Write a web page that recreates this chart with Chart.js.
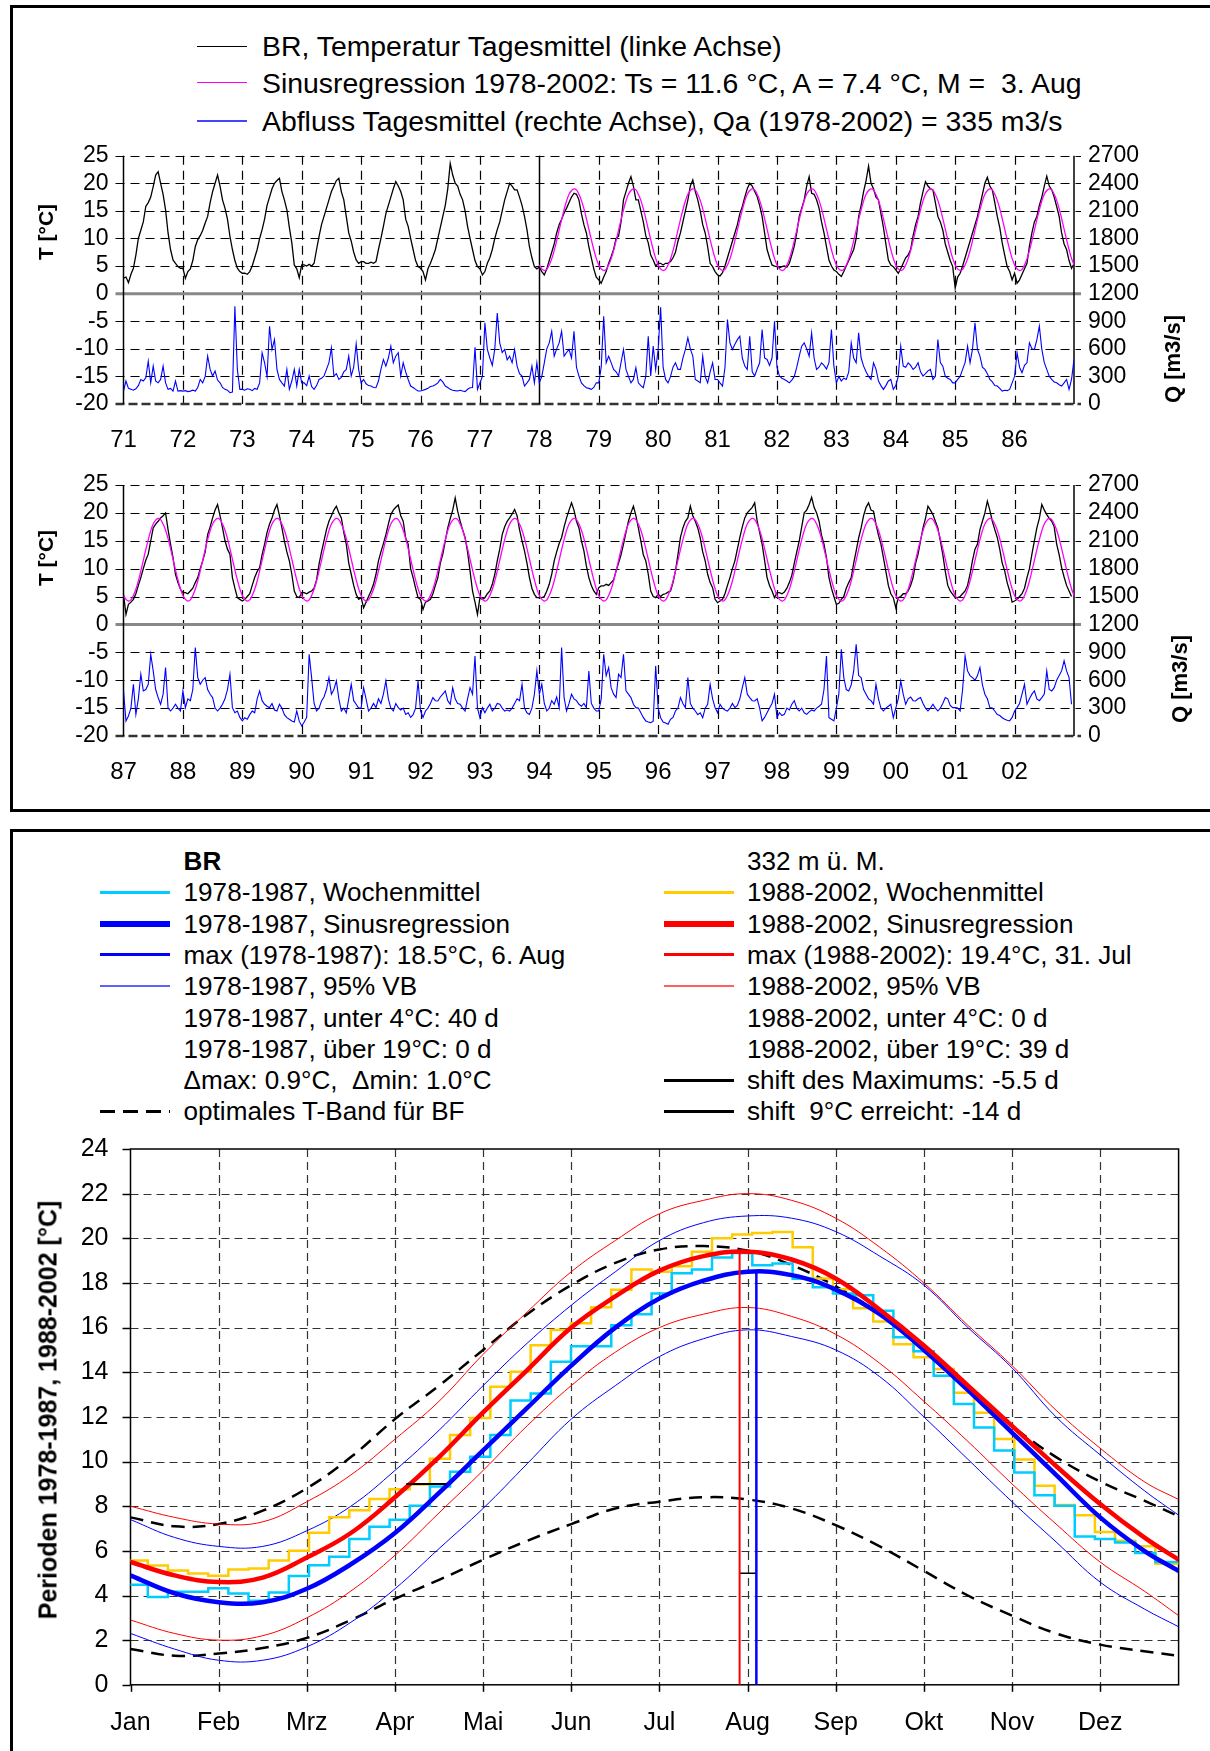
<!DOCTYPE html>
<html>
<head>
<meta charset="utf-8">
<script src="https://cdn.jsdelivr.net/npm/chart.js@4.4.0/dist/chart.umd.min.js"></script>
<style>
body { margin: 0; width: 1210px; height: 1751px; overflow: hidden; background: #fff; position: relative;
       font-family: "Liberation Sans", Arial, sans-serif; }
.frame { position: absolute; border: 3px solid #000; box-sizing: border-box; }
canvas { position: absolute; left: 0; }
.t { position: absolute; white-space: pre; line-height: 1; transform: translateY(-50%); color: #000; }
.top { font-size: 28.4px; }
.lg { font-size: 26.1px; }
.ln { position: absolute; height: 0; }
.rot { position: absolute; transform: translate(-50%, -50%) rotate(-90deg); font-weight: bold; white-space: nowrap; line-height: 1; }
</style>
</head>
<body>
<div class="frame" style="left:10px;top:5px;width:1300px;height:807px"></div>
<div class="frame" style="left:10px;top:829px;width:1300px;height:1000px"></div>

<!-- top legend -->
<div class="ln" style="left:197px;top:46px;width:50px;border-top:1px solid #000"></div>
<div class="ln" style="left:197px;top:82px;width:50px;border-top:1.5px solid #FF00FF"></div>
<div class="ln" style="left:197px;top:120px;width:50px;border-top:2px solid #4444FF"></div>
<div class="t top" style="left:262px;top:46px">BR, Temperatur Tagesmittel (linke Achse)</div>
<div class="t top" style="left:262px;top:83px">Sinusregression 1978-2002: Ts = 11.6 °C, A = 7.4 °C, M =  3. Aug</div>
<div class="t top" style="left:262px;top:121px">Abfluss Tagesmittel (rechte Achse), Qa (1978-2002) = 335 m3/s</div>

<canvas id="tempChartA" width="1210" height="320" style="top:140px"></canvas>
<canvas id="tempChartB" width="1210" height="320" style="top:470px"></canvas>
<div class="rot" style="left:45px;top:232px;font-size:21px">T [°C]</div>
<div class="rot" style="left:1173px;top:359px;font-size:22px">Q [m3/s]</div>
<div class="rot" style="left:45px;top:558px;font-size:21px">T [°C]</div>
<div class="rot" style="left:1180px;top:679px;font-size:22px">Q [m3/s]</div>

<!-- bottom legend -->
<div class="t lg" style="left:183.6px;top:861px;font-weight:bold">BR</div>
<div class="t lg" style="left:747px;top:861px">332 m ü. M.</div>

<div class="ln" style="left:100px;top:890.8px;width:70px;border-top:3px solid #00CCFF"></div>
<div class="t lg" style="left:183.6px;top:892.3px">1978-1987, Wochenmittel</div>
<div class="ln" style="left:663.6px;top:890.8px;width:70px;border-top:3px solid #FFCC00"></div>
<div class="t lg" style="left:747px;top:892.3px">1988-2002, Wochenmittel</div>

<div class="ln" style="left:100px;top:920.6px;width:70px;border-top:6px solid #0000FF"></div>
<div class="t lg" style="left:183.6px;top:923.6px">1978-1987, Sinusregression</div>
<div class="ln" style="left:663.6px;top:920.6px;width:70px;border-top:6px solid #FF0000"></div>
<div class="t lg" style="left:747px;top:923.6px">1988-2002, Sinusregression</div>

<div class="ln" style="left:100px;top:953.4px;width:70px;border-top:3px solid #0000FF"></div>
<div class="t lg" style="left:183.6px;top:954.9px">max (1978-1987): 18.5°C, 6. Aug</div>
<div class="ln" style="left:663.6px;top:953.4px;width:70px;border-top:3px solid #FF0000"></div>
<div class="t lg" style="left:747px;top:954.9px">max (1988-2002): 19.4°C, 31. Jul</div>

<div class="ln" style="left:100px;top:985.2px;width:70px;border-top:2px solid #6060FF"></div>
<div class="t lg" style="left:183.6px;top:986.2px">1978-1987, 95% VB</div>
<div class="ln" style="left:663.6px;top:985.2px;width:70px;border-top:2px solid #FF6060"></div>
<div class="t lg" style="left:747px;top:986.2px">1988-2002, 95% VB</div>

<div class="t lg" style="left:183.6px;top:1017.5px">1978-1987, unter 4°C: 40 d</div>
<div class="t lg" style="left:747px;top:1017.5px">1988-2002, unter 4°C: 0 d</div>

<div class="t lg" style="left:183.6px;top:1048.8px">1978-1987, über 19°C: 0 d</div>
<div class="t lg" style="left:747px;top:1048.8px">1988-2002, über 19°C: 39 d</div>

<div class="t lg" style="left:183.6px;top:1080.1px">Δmax: 0.9°C,  Δmin: 1.0°C</div>
<div class="ln" style="left:663.6px;top:1078.6px;width:70px;border-top:3px solid #000"></div>
<div class="t lg" style="left:747px;top:1080.1px">shift des Maximums: -5.5 d</div>

<div class="ln" style="left:100px;top:1109.9px;width:70px;height:3px;background:repeating-linear-gradient(90deg,#000 0 15px,transparent 15px 23px)"></div>
<div class="t lg" style="left:183.6px;top:1111.4px">optimales T-Band für BF</div>
<div class="ln" style="left:663.6px;top:1109.9px;width:70px;border-top:3px solid #000"></div>
<div class="t lg" style="left:747px;top:1111.4px">shift  9°C erreicht: -14 d</div>

<canvas id="annualChart" width="1210" height="621" style="top:1130px"></canvas>
<div class="rot" style="left:48px;top:1410px;font-size:25px">Perioden 1978-1987, 1988-2002 [°C]</div>

<script>
// Daily temperature (°C) at 24 points per year, 1971-1986
const tempA = [
    [2.8, 3.0, 2.0, 3.5, 4.6, 7.0, 10.0, 11.5, 13.0, 15.8, 16.5, 17.5, 19.4, 21.5, 22.1, 20.0, 18.0, 15.2, 11.0, 8.0, 6.1, 5.5, 4.9, 4.6],
    [4.6, 2.8, 4.0, 4.5, 6.0, 8.5, 9.8, 10.5, 11.5, 12.8, 14.0, 16.5, 18.5, 20.0, 21.5, 19.5, 17.0, 15.5, 13.5, 10.4, 8.0, 6.0, 4.6, 4.0],
    [3.7, 3.7, 3.5, 4.0, 5.0, 6.5, 8.0, 10.0, 11.6, 13.5, 16.0, 17.5, 19.0, 20.0, 20.5, 20.9, 18.5, 17.0, 15.2, 12.0, 9.2, 5.2, 4.5, 2.9],
    [5.2, 5.2, 5.0, 5.3, 5.0, 5.5, 8.0, 10.4, 12.5, 14.0, 15.5, 17.0, 18.5, 19.5, 20.5, 20.9, 18.5, 17.0, 14.0, 11.0, 9.5, 7.5, 6.1, 5.5],
    [5.8, 5.8, 5.5, 5.5, 5.7, 5.5, 5.8, 8.0, 10.0, 12.2, 14.5, 16.0, 17.5, 19.0, 20.3, 19.5, 18.5, 17.0, 13.5, 12.2, 10.0, 8.0, 6.0, 4.9],
    [4.6, 4.0, 2.5, 4.5, 5.5, 6.7, 8.0, 10.0, 12.0, 14.0, 16.0, 19.0, 23.6, 21.5, 20.0, 19.5, 18.0, 17.0, 15.0, 12.2, 10.0, 8.0, 6.0, 4.9],
    [4.5, 3.4, 4.0, 5.5, 6.5, 8.0, 10.0, 11.6, 13.0, 15.0, 17.0, 18.5, 20.0, 19.5, 18.8, 18.8, 17.5, 16.0, 14.0, 11.6, 8.5, 6.5, 4.9, 4.5],
    [4.8, 4.0, 3.4, 4.5, 6.0, 7.5, 9.0, 11.0, 12.5, 13.5, 14.6, 15.5, 16.5, 17.5, 18.2, 18.0, 17.0, 14.5, 12.5, 11.0, 8.5, 6.5, 4.5, 3.0],
    [2.5, 1.9, 3.0, 4.0, 5.5, 6.7, 8.0, 10.0, 10.4, 13.0, 17.0, 18.5, 20.0, 21.2, 19.5, 17.0, 17.0, 15.0, 13.0, 10.5, 9.2, 7.0, 6.1, 5.0],
    [5.5, 5.5, 5.2, 5.5, 5.5, 5.8, 6.5, 7.5, 9.5, 11.0, 13.0, 15.0, 17.0, 19.5, 20.6, 18.5, 17.0, 15.0, 12.5, 11.0, 8.5, 5.5, 4.9, 4.0],
    [3.4, 3.2, 3.8, 5.0, 6.5, 8.0, 9.5, 11.0, 12.5, 14.5, 15.8, 17.5, 19.0, 20.0, 19.5, 18.5, 17.6, 16.0, 14.0, 11.0, 8.0, 6.5, 5.2, 5.0],
    [4.9, 4.7, 4.9, 5.0, 4.8, 5.5, 7.0, 8.6, 11.0, 14.0, 15.5, 17.0, 19.5, 21.2, 18.2, 18.0, 17.0, 15.5, 13.0, 11.0, 8.5, 6.1, 5.0, 4.3],
    [4.0, 3.5, 3.1, 4.0, 5.0, 6.0, 7.0, 8.0, 10.0, 14.0, 16.0, 18.5, 20.5, 23.1, 20.0, 19.0, 17.5, 17.0, 14.5, 12.0, 9.0, 6.1, 5.2, 4.9],
    [4.3, 3.7, 4.5, 5.5, 6.5, 7.0, 8.0, 10.5, 12.5, 14.0, 16.5, 18.5, 20.3, 19.5, 19.0, 18.8, 16.5, 14.0, 13.0, 11.5, 9.0, 7.5, 6.0, 4.9],
    [1.0, 3.0, 3.7, 5.0, 6.5, 8.0, 9.5, 11.0, 12.5, 14.0, 16.0, 18.0, 20.0, 21.1, 19.5, 18.8, 16.5, 14.0, 12.0, 9.2, 7.0, 4.9, 4.0, 2.5],
    [3.7, 1.9, 2.5, 3.5, 4.5, 5.5, 8.6, 11.0, 13.0, 14.0, 16.0, 17.5, 19.5, 21.3, 19.5, 18.8, 17.5, 15.8, 14.0, 11.0, 9.0, 8.0, 6.0, 4.6]
];

// Daily temperature (°C), 1987-2002
const tempB = [
    [5.4, 1.8, 3.6, 4.0, 4.5, 5.5, 7.0, 8.4, 10.0, 11.5, 12.6, 15.0, 17.3, 18.0, 18.5, 19.1, 19.5, 20.0, 17.0, 14.4, 12.0, 9.0, 7.5, 6.3],
    [5.7, 5.7, 5.5, 6.0, 6.5, 7.5, 8.4, 10.0, 11.4, 13.0, 16.1, 17.5, 19.1, 20.5, 21.5, 19.5, 17.3, 15.0, 13.5, 12.6, 8.4, 6.5, 4.8, 4.5],
    [4.2, 4.5, 5.0, 5.5, 7.0, 8.4, 9.5, 10.2, 12.5, 14.4, 16.5, 18.0, 19.1, 20.5, 21.5, 19.5, 17.3, 15.0, 13.0, 11.4, 9.0, 6.0, 5.0, 4.8],
    [5.7, 5.7, 5.5, 5.8, 6.0, 6.5, 8.0, 10.8, 13.0, 15.0, 17.0, 18.5, 19.5, 20.5, 21.2, 20.0, 19.1, 16.5, 14.4, 11.0, 9.0, 7.0, 5.4, 4.5],
    [4.8, 3.0, 4.0, 5.0, 6.0, 7.2, 9.0, 11.4, 13.0, 14.5, 16.1, 18.0, 19.7, 20.5, 21.0, 21.4, 19.5, 18.5, 15.5, 14.4, 10.0, 8.4, 6.5, 4.8],
    [4.5, 2.7, 4.0, 4.2, 4.5, 5.5, 7.0, 8.4, 11.0, 12.6, 15.0, 17.3, 19.0, 20.5, 22.7, 20.3, 18.5, 17.0, 15.6, 13.0, 9.6, 6.0, 4.0, 1.8],
    [4.8, 4.5, 4.8, 5.5, 6.0, 7.2, 9.0, 11.4, 13.5, 16.1, 17.5, 18.5, 19.1, 19.8, 20.6, 19.5, 17.0, 15.0, 13.2, 11.0, 8.4, 6.5, 5.4, 4.8],
    [4.8, 4.8, 5.0, 6.0, 7.2, 9.0, 11.4, 13.0, 14.5, 15.6, 17.5, 19.1, 20.5, 21.8, 20.5, 18.5, 17.3, 15.0, 13.2, 10.5, 8.4, 7.0, 6.0, 5.4],
    [6.6, 6.9, 6.9, 7.2, 7.0, 7.5, 8.0, 9.6, 11.0, 12.5, 14.4, 16.5, 18.5, 20.0, 21.2, 19.5, 17.3, 15.0, 12.5, 11.4, 9.0, 6.0, 5.0, 4.8],
    [5.4, 5.0, 5.4, 5.5, 5.8, 6.0, 7.5, 9.6, 12.5, 15.6, 17.3, 18.5, 19.1, 21.2, 19.5, 18.5, 17.3, 15.5, 13.0, 11.4, 9.0, 7.5, 6.6, 4.5],
    [3.9, 4.2, 4.5, 5.5, 7.0, 8.4, 10.0, 11.4, 13.5, 15.6, 17.5, 19.1, 20.0, 20.5, 21.0, 21.8, 18.5, 16.5, 14.4, 11.5, 8.4, 7.0, 6.0, 4.8],
    [5.7, 5.7, 5.5, 5.8, 6.5, 7.5, 8.8, 11.0, 13.0, 15.0, 17.5, 20.0, 20.5, 21.5, 22.8, 21.0, 20.0, 18.5, 16.0, 14.4, 12.0, 8.4, 6.5, 5.0],
    [3.6, 3.8, 4.5, 5.0, 6.5, 7.5, 8.4, 11.0, 13.2, 15.5, 17.3, 19.5, 21.0, 21.8, 20.5, 20.3, 18.0, 16.0, 14.4, 12.0, 9.5, 7.0, 5.5, 4.8],
    [3.0, 4.8, 5.0, 5.5, 5.5, 6.0, 7.0, 8.4, 11.0, 12.6, 15.0, 17.3, 19.0, 21.2, 20.5, 19.7, 18.5, 17.3, 15.0, 12.5, 9.5, 7.0, 6.0, 5.4],
    [4.8, 4.8, 5.0, 5.5, 6.0, 7.0, 9.0, 11.5, 13.5, 14.4, 17.0, 18.5, 20.0, 22.1, 20.5, 18.5, 17.0, 15.6, 13.5, 11.0, 9.6, 7.5, 6.0, 4.0],
    [4.2, 4.5, 5.0, 5.5, 6.5, 8.4, 10.0, 12.6, 15.0, 17.3, 19.0, 21.5, 20.5, 19.7, 19.0, 18.5, 17.5, 14.4, 12.5, 10.2, 8.5, 7.0, 6.0, 5.0]
];

// Daily discharge (m3/s), 24 points per year, 1971-1986
const flowA = [
    [141, 250, 170, 160, 150, 165, 200, 267, 250, 285, 466, 230, 412, 250, 230, 267, 412, 230, 159, 170, 141, 250, 141, 145],
    [140, 145, 135, 140, 150, 140, 180, 267, 230, 300, 520, 376, 304, 358, 260, 230, 180, 159, 150, 123, 130, 1063, 376, 159],
    [159, 150, 165, 160, 145, 170, 160, 230, 557, 448, 300, 846, 593, 701, 376, 267, 230, 195, 376, 159, 250, 376, 195, 376],
    [230, 230, 200, 304, 190, 159, 200, 267, 280, 304, 376, 450, 611, 304, 330, 267, 290, 350, 376, 520, 304, 400, 654, 376],
    [230, 267, 220, 200, 195, 180, 177, 250, 376, 484, 412, 500, 629, 448, 520, 557, 304, 448, 350, 267, 195, 180, 159, 141],
    [141, 150, 159, 170, 190, 195, 210, 230, 267, 240, 195, 180, 159, 150, 145, 141, 150, 141, 135, 160, 177, 180, 618, 159],
    [230, 300, 882, 593, 500, 420, 600, 990, 665, 560, 593, 480, 520, 448, 593, 412, 330, 304, 195, 230, 267, 412, 230, 448],
    [230, 300, 448, 600, 665, 791, 520, 600, 665, 791, 520, 560, 593, 500, 791, 400, 304, 230, 200, 177, 170, 159, 180, 230],
    [230, 400, 954, 448, 520, 450, 376, 350, 304, 450, 593, 376, 300, 230, 267, 394, 230, 200, 177, 300, 737, 304, 629, 376],
    [593, 1052, 400, 267, 230, 300, 400, 448, 376, 376, 500, 593, 719, 600, 520, 267, 250, 230, 520, 300, 230, 350, 448, 267],
    [267, 230, 195, 400, 918, 665, 593, 650, 700, 737, 500, 412, 376, 737, 350, 304, 380, 448, 810, 500, 484, 420, 500, 900],
    [400, 304, 280, 267, 250, 230, 260, 300, 400, 520, 629, 665, 600, 520, 773, 500, 376, 400, 448, 420, 380, 450, 810, 412],
    [230, 300, 250, 280, 267, 350, 665, 500, 448, 773, 500, 412, 350, 300, 267, 448, 380, 250, 200, 159, 200, 250, 267, 159],
    [200, 300, 629, 412, 400, 448, 420, 376, 400, 448, 350, 304, 330, 360, 376, 267, 300, 701, 450, 412, 300, 280, 267, 230],
    [230, 267, 300, 376, 450, 629, 448, 600, 882, 593, 520, 400, 376, 330, 267, 240, 200, 195, 170, 141, 150, 145, 159, 230],
    [300, 557, 400, 340, 420, 448, 665, 600, 593, 700, 846, 593, 450, 376, 300, 267, 240, 230, 210, 195, 230, 267, 159, 267]
];

// Daily discharge (m3/s), 1987-2002
const flowB = [
    [485, 162, 215, 300, 556, 233, 400, 664, 485, 500, 556, 879, 700, 500, 413, 341, 450, 736, 300, 269, 300, 341, 300, 269],
    [485, 305, 400, 380, 500, 951, 628, 556, 600, 628, 500, 449, 413, 300, 269, 300, 341, 400, 500, 664, 305, 250, 269, 200],
    [162, 197, 180, 230, 269, 250, 400, 485, 380, 341, 320, 305, 350, 280, 269, 341, 300, 230, 197, 180, 162, 150, 269, 160],
    [108, 150, 200, 879, 628, 350, 269, 300, 377, 420, 500, 628, 450, 500, 592, 400, 269, 300, 250, 400, 556, 380, 341, 300],
    [300, 520, 400, 269, 300, 350, 305, 400, 350, 450, 592, 400, 300, 269, 350, 305, 280, 300, 233, 250, 200, 230, 300, 592],
    [269, 200, 269, 300, 350, 413, 380, 377, 420, 450, 485, 380, 341, 520, 400, 350, 341, 300, 269, 400, 520, 450, 860, 300],
    [197, 305, 250, 300, 341, 269, 300, 350, 341, 300, 269, 280, 269, 300, 350, 400, 380, 556, 300, 250, 233, 300, 449, 700],
    [450, 556, 350, 269, 300, 380, 341, 420, 305, 951, 413, 269, 350, 449, 400, 380, 341, 320, 350, 305, 700, 350, 300, 269],
    [269, 400, 879, 650, 736, 520, 450, 413, 664, 628, 879, 485, 450, 413, 341, 305, 300, 250, 200, 162, 150, 144, 160, 754],
    [300, 197, 150, 140, 126, 180, 200, 269, 300, 413, 350, 305, 628, 350, 300, 269, 230, 250, 197, 300, 341, 556, 400, 305],
    [250, 341, 300, 280, 269, 300, 350, 305, 330, 400, 520, 628, 450, 413, 380, 377, 400, 300, 162, 200, 250, 300, 350, 449],
    [200, 250, 220, 233, 300, 280, 341, 380, 300, 269, 300, 250, 233, 260, 280, 269, 300, 320, 341, 500, 861, 197, 180, 162],
    [300, 450, 933, 628, 500, 485, 550, 700, 987, 650, 628, 500, 449, 400, 380, 341, 556, 400, 300, 269, 300, 320, 341, 197],
    [300, 400, 592, 450, 341, 400, 420, 380, 377, 400, 413, 350, 300, 269, 300, 341, 300, 269, 300, 350, 413, 400, 330, 305],
    [305, 300, 269, 500, 861, 700, 650, 628, 600, 650, 736, 550, 449, 400, 305, 300, 269, 230, 220, 197, 180, 170, 162, 200],
    [269, 305, 350, 450, 556, 341, 400, 450, 485, 400, 380, 413, 450, 700, 500, 485, 520, 600, 650, 700, 808, 700, 628, 341]
];

// one year of the 1978-2002 sine regression (magenta), same 24 points per year
const sineCycle = [5.2, 4.5, 4.2, 4.4, 5.2, 6.3, 7.8, 9.6, 11.5, 13.4, 15.2, 16.8, 18.0, 18.7, 19.0, 18.8, 18.0, 16.9, 15.4, 13.6, 11.7, 9.8, 8.0, 6.4];

// lower chart: weekly means (°C), weeks 1-52
const weekly7887 = [4.48, 3.93, 4.17, 4.17, 4.32, 4.09, 3.77, 4.13, 4.87, 5.35, 5.74, 6.53, 7.08, 7.39, 8.02, 8.88, 9.54, 10.22, 11.19, 12.74, 13.05, 14.47, 15.17, 15.17, 16.1, 16.6,
    17.53, 18.43, 18.6, 19.14, 19.34, 18.79, 18.87, 18.19, 17.81, 17.53, 17.45, 16.75, 15.57, 14.94, 13.84, 12.58, 11.53, 10.49, 9.51, 8.49, 8.02, 6.64, 6.53, 6.37, 5.9, 5.5];
const weekly8802 = [5.57, 5.34, 5.12, 4.98, 4.89, 5.16, 5.21, 5.57, 6.01, 6.81, 7.5, 7.82, 8.32, 8.76, 8.97, 10.12, 11.19, 11.95, 13.35, 14.02, 15.21, 15.89, 16.2, 16.91, 17.7, 18.6,
    18.5, 18.75, 19.4, 20.0, 20.17, 20.24, 20.28, 19.6, 18.2, 17.72, 16.87, 16.27, 15.25, 14.67, 14.15, 13.08, 12.19, 11.01, 10.09, 8.92, 8.05, 7.59, 6.84, 6.45, 6.21, 5.42];

// lower chart: curves read at half-month steps (x in months from 1 Jan)
const curveMonths = [0, 0.5, 1, 1.5, 2, 2.5, 3, 3.5, 4, 4.5, 5, 5.5, 6, 6.5, 7, 7.5, 8, 8.5, 9, 9.5, 10, 10.5, 11, 11.5, 11.89];
const sine8802 = [5.5, 4.9, 4.6, 4.8, 5.7, 6.8, 8.4, 10.2, 12.2, 14.1, 16.0, 17.4, 18.55, 19.2, 19.4, 19.05, 18.2, 16.8, 15.2, 13.4, 11.6, 9.8, 8.1, 6.6, 5.6];
const sine7887 = [4.9, 4.1, 3.7, 3.7, 4.3, 5.4, 6.8, 8.6, 10.5, 12.4, 14.3, 16.0, 17.3, 18.1, 18.5, 18.35, 17.7, 16.6, 15.0, 13.2, 11.3, 9.4, 7.5, 6.0, 5.1];
const vbUpper8802 = [8.0, 7.5, 7.2, 7.3, 8.2, 9.4, 11.0, 12.7, 14.8, 16.7, 18.5, 19.9, 21.1, 21.7, 22.0, 21.7, 20.9, 19.6, 18.0, 16.1, 14.3, 12.3, 10.6, 9.1, 8.3];
const vbLower8802 = [2.9, 2.3, 2.0, 2.2, 3.0, 4.2, 5.8, 7.7, 9.6, 11.6, 13.4, 14.9, 16.0, 16.6, 16.9, 16.5, 15.7, 14.4, 12.7, 10.9, 9.0, 7.2, 5.5, 4.2, 3.1];
const vbUpper7887 = [7.4, 6.6, 6.2, 6.2, 6.9, 8.0, 9.6, 11.4, 13.4, 15.3, 17.0, 18.5, 19.9, 20.7, 21.0, 20.9, 20.3, 19.2, 17.9, 16.0, 14.2, 12.0, 10.3, 8.7, 7.6];
const vbLower7887 = [2.3, 1.6, 1.1, 1.1, 1.7, 2.8, 4.3, 6.1, 7.9, 9.9, 11.9, 13.4, 14.7, 15.5, 15.9, 15.6, 15.0, 13.8, 12.0, 10.1, 8.2, 6.4, 4.6, 3.4, 2.6];
const bandUpper = [7.5, 7.1, 7.2, 7.8, 8.8, 10.2, 11.9, 13.4, 15.0, 16.6, 17.9, 18.9, 19.5, 19.65, 19.45, 18.8, 17.85, 16.6, 15.0, 13.3, 11.6, 10.2, 9.1, 8.25, 7.55];
const bandLower = [1.6, 1.3, 1.4, 1.65, 2.1, 2.9, 3.85, 4.7, 5.6, 6.45, 7.2, 7.9, 8.2, 8.4, 8.3, 7.9, 7.15, 6.2, 5.1, 4.0, 3.1, 2.3, 1.8, 1.5, 1.3];

// maxima and the 9°C crossing (month position, °C)
const max8802 = { month: 6.91, temp: 19.4 };   // 31. Jul
const max7887 = { month: 7.10, temp: 18.5 };   // 6. Aug
const shiftLevel = 5;
const reach9 = { red: 3.13, blue: 3.585, temp: 9 };

const monthNames = ['Jan', 'Feb', 'Mrz', 'Apr', 'Mai', 'Jun', 'Jul', 'Aug', 'Sep', 'Okt', 'Nov', 'Dez'];
const daysPerMonthTick = 30.62;

Chart.defaults.font.family = "'Liberation Sans', Arial, sans-serif";
Chart.defaults.color = '#000';

function series(startYear, years, endValue) {
    const pts = [];
    years.forEach((vals, k) => vals.forEach((v, i) => pts.push({ x: startYear + k + i / vals.length, y: v })));
    if (endValue !== undefined) pts.push({ x: startYear + years.length, y: endValue });
    return pts;
}

function hLine(ctx, x1, x2, y) { ctx.beginPath(); ctx.moveTo(x1, y); ctx.lineTo(x2, y); ctx.stroke(); }
function vLine(ctx, x, y1, y2) { ctx.beginPath(); ctx.moveTo(x, y1); ctx.lineTo(x, y2); ctx.stroke(); }

// fixed axis sizes, no extra label overhang padding
function fixWidth(w) { return ax => { ax.width = w; ax.paddingTop = 0; ax.paddingBottom = 0; }; }
function fixHeight(h) { return ax => { ax.height = h; ax.paddingLeft = 0; ax.paddingRight = 0; }; }

// grid of the two upper charts
const topGrid = {
    id: 'topGrid',
    beforeDatasetsDraw(chart, args, opts) {
        const { ctx, chartArea: a, scales: { x, y } } = chart;
        ctx.save();
        ctx.strokeStyle = '#000';
        ctx.lineWidth = 1.2;
        ctx.setLineDash([9, 6]);
        for (let v = -15; v <= 25; v += 5) {
            if (v === 0) continue;
            hLine(ctx, a.left - 8, a.right + 7, Math.round(y.getPixelForValue(v)) + 0.5);
        }
        for (let yr = x.min + 1; yr < x.max; yr++) {
            if (yr === opts.solidYear) continue;
            vLine(ctx, Math.round(x.getPixelForValue(yr)) + 0.5, a.top, a.bottom);
        }
        ctx.lineWidth = 2.5;
        ctx.strokeStyle = '#333';
        ctx.setLineDash([9, 4]);
        hLine(ctx, a.left - 8, a.right + 7, a.bottom);
        ctx.setLineDash([]);
        ctx.strokeStyle = '#888';
        ctx.lineWidth = 3;
        hLine(ctx, a.left - 8, a.right + 7, y.getPixelForValue(0));
        ctx.strokeStyle = '#000';
        ctx.lineWidth = 1.5;
        vLine(ctx, a.left, a.top, a.bottom);
        vLine(ctx, a.right, a.top, a.bottom);
        if (opts.solidYear) vLine(ctx, Math.round(x.getPixelForValue(opts.solidYear)) + 0.5, a.top, a.bottom);
        ctx.restore();
    }
};

function makeTopChart(id, startYear, temps, flows, sineStart, opts) {
    const endYear = startYear + temps.length;
    const yearTicks = [];
    for (let yr = startYear; yr < endYear; yr++) yearTicks.push(yr);
    const tickFont = { size: 23 };
    return new Chart(document.getElementById(id), {
        type: 'line',
        data: {
            datasets: [
                {
                    label: 'Sinusregression',
                    data: series(sineStart, Array(endYear - sineStart).fill(sineCycle), sineCycle[0]),
                    borderColor: '#FF00FF', borderWidth: 1.3, tension: 0.4, yAxisID: 'y'
                },
                {
                    label: 'Temperatur',
                    data: series(startYear, temps, opts.tempEnd),
                    borderColor: '#000', borderWidth: 1.3, yAxisID: 'y'
                },
                {
                    label: 'Abfluss',
                    data: series(startYear, flows, opts.flowEnd),
                    borderColor: '#0000FF', borderWidth: 1.1, yAxisID: 'yQ'
                }
            ]
        },
        options: {
            responsive: false,
            animation: false,
            events: [],
            elements: { point: { radius: 0 }, line: { tension: 0 } },
            layout: { padding: { top: opts.padTop, left: 0, right: 0, bottom: 0 } },
            plugins: { legend: { display: false }, tooltip: { enabled: false }, topGrid: { solidYear: opts.solidYear } },
            scales: {
                x: {
                    type: 'linear', min: startYear, max: endYear,
                    grid: { display: false, drawTicks: false }, border: { display: false },
                    afterBuildTicks: ax => { ax.ticks = yearTicks.map(v => ({ value: v })); },
                    afterFit: fixHeight(opts.xHeight),
                    ticks: { padding: 22, font: { size: 24 }, maxRotation: 0, autoSkip: false, callback: v => String(v).slice(2) }
                },
                y: {
                    position: 'left', min: -20, max: 25,
                    grid: { display: false, drawTicks: false }, border: { display: false },
                    afterFit: fixWidth(123.5),
                    ticks: { stepSize: 5, padding: 15, autoSkip: false, font: tickFont, callback: v => String(v) }
                },
                yQ: {
                    position: 'right', min: 0, max: 2700,
                    grid: { display: false, drawTicks: false }, border: { display: false },
                    afterFit: fixWidth(136),
                    ticks: { stepSize: 300, padding: 14, autoSkip: false, font: tickFont, callback: v => String(v) }
                }
            }
        },
        plugins: [topGrid]
    });
}

makeTopChart('tempChartA', 1971, tempA, flowA, 1978,
    { solidYear: 1978, tempEnd: tempB[0][0], flowEnd: flowB[0][0], padTop: 15.7, xHeight: 56 });
makeTopChart('tempChartB', 1987, tempB, flowB, 1987,
    { solidYear: null, padTop: 15, xHeight: 54 });

// lower chart
const xMax = 11.89;
const pts = vals => vals.map((v, i) => ({ x: curveMonths[i], y: v }));
const weekPts = vals => vals.map((v, k) => ({ x: (7 * k - 1) / daysPerMonthTick, y: v })).concat([{ x: xMax, y: vals[vals.length - 1] }]);

const annualGrid = {
    id: 'annualGrid',
    beforeDatasetsDraw(chart) {
        const { ctx, chartArea: a, scales: { x, y } } = chart;
        ctx.save();
        ctx.strokeStyle = '#333';
        ctx.lineWidth = 1.2;
        ctx.setLineDash([8, 5]);
        for (let v = 2; v < 24; v += 2) hLine(ctx, a.left, a.right, Math.round(y.getPixelForValue(v)) + 0.5);
        for (let m = 1; m < 12; m++) vLine(ctx, Math.round(x.getPixelForValue(m)) + 0.5, a.top, a.bottom);
        ctx.setLineDash([]);
        ctx.strokeStyle = '#000';
        ctx.lineWidth = 1.5;
        ctx.strokeRect(a.left, a.top, a.right - a.left, a.bottom - a.top);
        for (let v = 0; v <= 24; v += 2) hLine(ctx, a.left - 8, a.left, Math.round(y.getPixelForValue(v)) + 0.5);
        for (let m = 0; m < 12; m++) vLine(ctx, Math.round(x.getPixelForValue(m)) + 0.5, a.bottom, a.bottom + 7);
        ctx.restore();
    }
};

new Chart(document.getElementById('annualChart'), {
    type: 'line',
    data: {
        datasets: [
            { label: 'max 1988-2002', data: [{ x: max8802.month, y: 0 }, { x: max8802.month, y: max8802.temp }], borderColor: '#FF0000', borderWidth: 2 },
            { label: 'max 1978-1987', data: [{ x: max7887.month, y: 0 }, { x: max7887.month, y: max7887.temp }], borderColor: '#0000FF', borderWidth: 2.5 },
            { label: 'shift des Maximums', data: [{ x: max8802.month, y: shiftLevel }, { x: max7887.month, y: shiftLevel }], borderColor: '#000', borderWidth: 1.5 },
            { label: 'shift 9°C', data: [{ x: reach9.red, y: reach9.temp }, { x: reach9.blue, y: reach9.temp }], borderColor: '#000', borderWidth: 2 },
            { label: '1988-2002, Sinusregression', data: pts(sine8802), borderColor: '#FF0000', borderWidth: 4.5, tension: 0.4 },
            { label: '1978-1987, Sinusregression', data: pts(sine7887), borderColor: '#0000FF', borderWidth: 4.5, tension: 0.4 },
            { label: '1978-1987, Wochenmittel', data: weekPts(weekly7887), borderColor: '#00CCFF', borderWidth: 2.5, stepped: true },
            { label: '1988-2002, Wochenmittel', data: weekPts(weekly8802), borderColor: '#FFCC00', borderWidth: 2.5, stepped: true },
            { label: '1988-2002, 95% VB oben', data: pts(vbUpper8802), borderColor: '#FF0000', borderWidth: 1, tension: 0.4 },
            { label: '1988-2002, 95% VB unten', data: pts(vbLower8802), borderColor: '#FF0000', borderWidth: 1, tension: 0.4 },
            { label: '1978-1987, 95% VB oben', data: pts(vbUpper7887), borderColor: '#0000FF', borderWidth: 1, tension: 0.4 },
            { label: '1978-1987, 95% VB unten', data: pts(vbLower7887), borderColor: '#0000FF', borderWidth: 1, tension: 0.4 },
            { label: 'optimales T-Band oben', data: pts(bandUpper), borderColor: '#000', borderWidth: 2.5, borderDash: [13, 8], tension: 0.4 },
            { label: 'optimales T-Band unten', data: pts(bandLower), borderColor: '#000', borderWidth: 2.5, borderDash: [13, 8], tension: 0.4 }
        ]
    },
    options: {
        responsive: false,
        animation: false,
        events: [],
        elements: { point: { radius: 0 }, line: { tension: 0 } },
        layout: { padding: { top: 19, left: 0, right: 31.4, bottom: 0 } },
        plugins: { legend: { display: false }, tooltip: { enabled: false } },
        scales: {
            x: {
                type: 'linear', min: 0, max: xMax,
                grid: { display: false, drawTicks: false }, border: { display: false },
                afterBuildTicks: ax => { ax.ticks = monthNames.map((n, i) => ({ value: i })); },
                afterFit: fixHeight(66.2),
                ticks: { padding: 23, font: { size: 25 }, maxRotation: 0, autoSkip: false, callback: v => monthNames[v] }
            },
            y: {
                min: 0, max: 24,
                grid: { display: false, drawTicks: false }, border: { display: false },
                afterFit: fixWidth(130.5),
                ticks: { stepSize: 2, padding: 22, autoSkip: false, font: { size: 25 }, callback: v => String(v) }
            }
        }
    },
    plugins: [annualGrid]
});
</script>
</body>
</html>
